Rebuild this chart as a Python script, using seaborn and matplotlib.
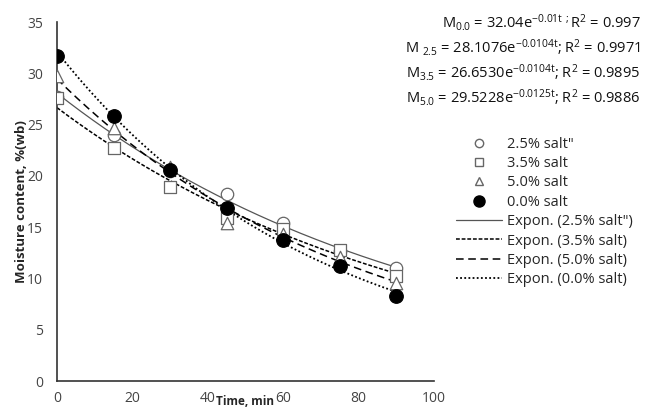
import numpy as np
import pandas as pd
import seaborn as sns
import matplotlib.pyplot as plt
from matplotlib.lines import Line2D

time_min = [0, 15, 30, 45, 60, 75, 90]

salt_25 = [27.7, 24.0, 20.5, 18.2, 15.4, 12.7, 11.0]
salt_35 = [27.6, 22.7, 18.9, 15.9, 14.8, 12.8, 10.3]
salt_50 = [29.7, 24.7, 20.9, 15.4, 14.3, 12.1, 9.6]
salt_00 = [31.7, 25.8, 20.6, 16.9, 13.8, 11.2, 8.3]

series_labels = ['2.5% salt"', '3.5% salt', '5.0% salt', '0.0% salt']
fit_labels = ['Expon. (2.5% salt")', 'Expon. (3.5% salt)',
              'Expon. (5.0% salt)', 'Expon. (0.0% salt)']

equations = [
    r'M$_{0.0}$ = 32.04e$^{-0.01t}$ $^{;}$R$^{2}$ = 0.997',
    r'M $_{2.5}$ = 28.1076e$^{-0.0104t}$; R$^{2}$ = 0.9971',
    r'M$_{3.5}$ = 26.6530e$^{-0.0104t}$; R$^{2}$ = 0.9895',
    r'M$_{5.0}$ = 29.5228e$^{-0.0125t}$; R$^{2}$ = 0.9886',
]

sns.set_style("white")
plt.rcParams['font.family'] = ['Open Sans', 'DejaVu Sans']
plt.rcParams['mathtext.fontset'] = 'custom'
plt.rcParams['mathtext.rm'] = 'Open Sans'
plt.rcParams['mathtext.it'] = 'Open Sans'

rows = []
for lab, vals in zip(series_labels, [salt_25, salt_35, salt_50, salt_00]):
    for t, v in zip(time_min, vals):
        rows.append({'series': lab, 'time': t, 'moisture': v})
df = pd.DataFrame(rows)

# exponential trendlines (fit on log, like Excel does)
t_fine = np.linspace(0, 90, 200)
fit_rows = []
for lab, flab, vals in zip(series_labels, fit_labels, [salt_25, salt_35, salt_50, salt_00]):
    b, a = np.polyfit(time_min, np.log(vals), 1)
    for t in t_fine:
        fit_rows.append({'series': flab, 'time': t, 'moisture': np.exp(a) * np.exp(b * t)})
fit_df = pd.DataFrame(fit_rows)

fig = plt.figure(figsize=(6.52, 4.09), dpi=100)
ax = fig.add_axes([0.0874, 0.068, 0.578, 0.878])

line_styles = {
    fit_labels[0]: dict(color='#555555', ls='-', lw=0.9),
    fit_labels[1]: dict(color='black', ls=(0, (2.5, 1.2)), lw=1.1),
    fit_labels[2]: dict(color='black', ls=(0, (5, 3)), lw=1.1),
    fit_labels[3]: dict(color='black', ls=(0, (1, 1.3)), lw=1.3),
}
for flab in fit_labels:
    sns.lineplot(data=fit_df[fit_df['series'] == flab], x='time', y='moisture',
                 ax=ax, legend=False, **line_styles[flab])

marker_styles = {
    series_labels[0]: dict(marker='o', facecolor='white', edgecolor='#666666', s=80),
    series_labels[1]: dict(marker='s', facecolor='white', edgecolor='#666666', s=80),
    series_labels[2]: dict(marker='^', facecolor='white', edgecolor='#666666', s=80),
    series_labels[3]: dict(marker='o', facecolor='black', edgecolor='black', s=95),
}
for lab in series_labels:
    sns.scatterplot(data=df[df['series'] == lab], x='time', y='moisture', ax=ax,
                    linewidth=0.9, legend=False, zorder=3, **marker_styles[lab])

ax.set_xlim(0, 100)
ax.set_ylim(0, 35)
ax.set_xticks(range(0, 101, 20))
ax.set_yticks(range(0, 36, 5))
sns.despine(ax=ax)
for sp in ['left', 'bottom']:
    ax.spines[sp].set_color('#333333')
    ax.spines[sp].set_linewidth(1.2)
ax.tick_params(axis='both', direction='out', length=5, width=1, color='#333333',
               labelsize=10, labelcolor='#444444', pad=5)
ax.tick_params(axis='x', pad=2)
ax.set_xlabel('Time, min', fontsize=8.5, fontweight='bold', va='bottom')
ax.xaxis.set_label_coords(0.5, -0.076)
ax.set_ylabel('Moisture content, %(wb)', fontsize=9.5, fontweight='bold', labelpad=-1)

# equations
eq_y = [0.945, 0.885, 0.823, 0.762]
for txt, yy in zip(equations, eq_y):
    fig.text(0.982, yy, txt, ha='right', va='center', fontsize=10.5, color='#111111')

handles = [
    Line2D([], [], ls='none', marker='o', mfc='white', mec='#666666', ms=6),
    Line2D([], [], ls='none', marker='s', mfc='white', mec='#666666', ms=6),
    Line2D([], [], ls='none', marker='^', mfc='white', mec='#666666', ms=6),
    Line2D([], [], ls='none', marker='o', mfc='black', mec='black', ms=8),
]
for flab in fit_labels:
    st = line_styles[flab]
    handles.append(Line2D([], [], color=st['color'], ls=st['ls'], lw=st['lw']))
fig.legend(handles, series_labels + fit_labels, loc='upper left',
           bbox_to_anchor=(0.69, 0.68), frameon=False, fontsize=10.5,
           handlelength=3.2, handletextpad=0.3, labelspacing=0.3,
           borderaxespad=0)

fig.savefig('out.png', dpi=100)
